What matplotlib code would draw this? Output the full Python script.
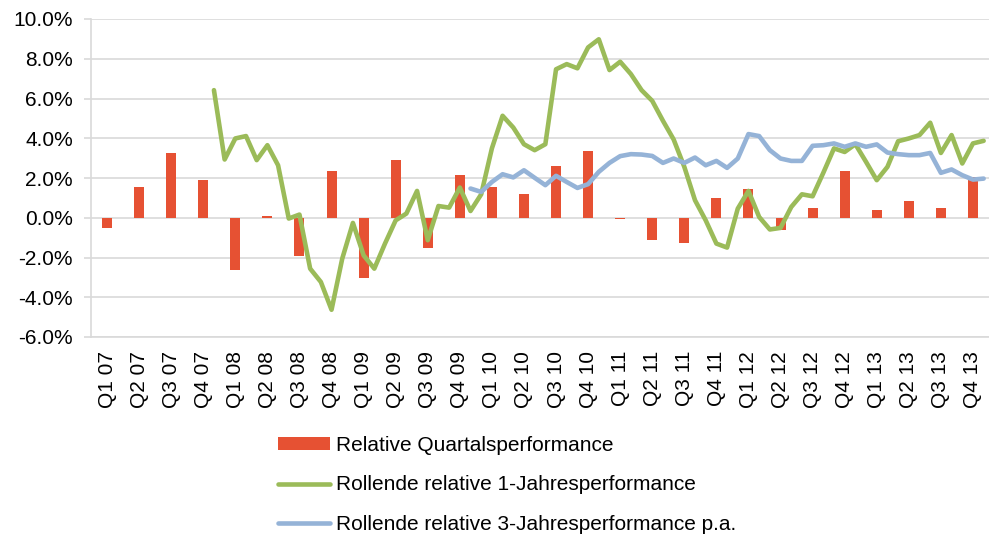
import matplotlib
matplotlib.use("Agg")
import matplotlib.pyplot as plt
import numpy as np

plt.rcParams['font.family'] = ['Liberation Sans', 'DejaVu Sans']

quarters = ["Q%d %02d" % (q, y) for y in range(7, 14) for q in range(1, 5)]

# relative quarterly performance (%)
quarterly = [-0.5, 1.57, 3.26, 1.92, -2.61, 0.07, -1.92, 2.36,
             -3.03, 2.9, -1.52, 2.14, 1.54, 1.22, 2.58, 3.35,
             -0.08, -1.1, -1.27, 1.0, 1.44, -0.63, 0.51, 2.34,
             0.38, 0.85, 0.49, 2.06]

# rolling 1-year performance, monthly from Dec 07 to Dec 13 (%)
rolling_1y = [6.42, 2.93, 3.99, 4.11, 2.90, 3.65, 2.64, -0.04, 0.16, -2.56,
              -3.23, -4.63, -2.06, -0.26, -1.89, -2.56, -1.3, -0.13, 0.21, 1.35,
              -1.13, 0.59, 0.51, 1.52, 0.34, 1.18, 3.49, 5.13, 4.54, 3.70,
              3.40, 3.70, 7.47, 7.73, 7.52, 8.57, 8.98, 7.43, 7.85, 7.23,
              6.42, 5.88, 4.88, 3.94, 2.56, 0.88, -0.13, -1.3, -1.5, 0.46,
              1.35, 0.04, -0.59, -0.51, 0.54, 1.18, 1.08, 2.26, 3.49, 3.31,
              3.70, 2.81, 1.89, 2.56, 3.85, 3.99, 4.16, 4.78, 3.26, 4.16,
              2.73, 3.74, 3.87]

# rolling 3-year performance p.a., monthly from Dec 09 to Dec 13 (%)
rolling_3y = [1.47, 1.30, 1.80, 2.19, 2.03, 2.39, 2.01, 1.64, 2.11, 1.80,
              1.50, 1.69, 2.31, 2.76, 3.10, 3.20, 3.18, 3.11, 2.76, 2.98,
              2.76, 3.03, 2.64, 2.86, 2.51, 2.98, 4.21, 4.11, 3.40, 2.98,
              2.86, 2.86, 3.62, 3.65, 3.74, 3.57, 3.74, 3.57, 3.69, 3.28,
              3.20, 3.15, 3.15, 3.26, 2.26, 2.43, 2.14, 1.92, 1.97]

start_1y = 11   # month index (Jan 07 = 0)
start_3y = 35

fig = plt.figure(figsize=(9.89, 5.34), dpi=100)
ax = fig.add_axes([91 / 989, 197 / 534, 898 / 989, 318 / 534])

grid_c = "#d9d9d9"
xq = np.arange(len(quarters))
ax.bar(xq, quarterly, width=0.31, color="#e65133", zorder=2,
       label="Relative Quartalsperformance")

# monthly points sit at thirds of a quarter
m1 = (np.arange(len(rolling_1y)) + start_1y - 1) / 3.0
m3 = (np.arange(len(rolling_3y)) + start_3y - 1) / 3.0
ax.plot(m1, rolling_1y, color="#9bbb59", lw=3.3, zorder=3,
        solid_joinstyle="round", solid_capstyle="round",
        label="Rollende relative 1-Jahresperformance")
ax.plot(m3, rolling_3y, color="#95b3d7", lw=3.3, zorder=3,
        solid_joinstyle="round", solid_capstyle="round",
        label="Rollende relative 3-Jahresperformance p.a.")

ax.set_xlim(-0.5, len(quarters) - 0.5)
ax.set_ylim(-6, 10)
ax.set_yticks(np.arange(-6, 10.1, 2))
ax.set_yticklabels(["%.1f%%" % v for v in np.arange(-6, 10.1, 2)])
ax.set_xticks(xq)
ax.set_xticklabels(quarters, rotation=90)

ax.grid(axis="y", color=grid_c, lw=1.2, zorder=0)
ax.set_axisbelow(True)
for s in ["top", "right"]:
    ax.spines[s].set_visible(False)
for s in ["left", "bottom"]:
    ax.spines[s].set_color(grid_c)
    ax.spines[s].set_linewidth(1.2)
ax.tick_params(axis="y", length=5, width=1.2, color=grid_c, pad=8,
               labelsize=15)
ax.tick_params(axis="x", length=0, pad=10, labelsize=15)

handles, labels = ax.get_legend_handles_labels()
order = [2, 0, 1]
fig.legend([handles[i] for i in order], [labels[i] for i in order],
           loc="upper left", bbox_to_anchor=(278 / 989, 1 - 436 / 534),
           frameon=False, fontsize=15, handlelength=2.5, handleheight=0.55,
           handletextpad=0.3, labelspacing=0.98, borderpad=0,
           borderaxespad=0)

fig.savefig("out.png", dpi=100)
